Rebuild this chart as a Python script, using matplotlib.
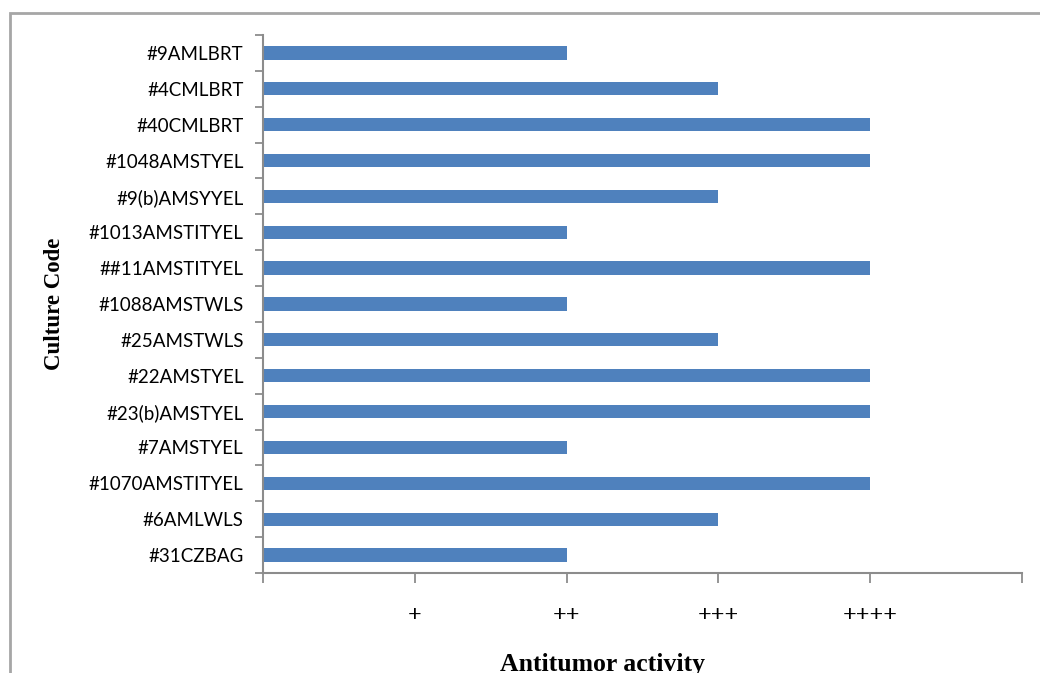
import numpy as np
import matplotlib
matplotlib.use('Agg')
import matplotlib.pyplot as plt
from matplotlib.patches import Rectangle

# culture codes, listed top to bottom
codes = ['#9AMLBRT', '#4CMLBRT', '#40CMLBRT', '#1048AMSTYEL', '#9(b)AMSYYEL',
         '#1013AMSTITYEL', '##11AMSTITYEL', '#1088AMSTWLS', '#25AMSTWLS',
         '#22AMSTYEL', '#23(b)AMSTYEL', '#7AMSTYEL', '#1070AMSTITYEL',
         '#6AMLWLS', '#31CZBAG']
# activity score (number of +)
activity = [2, 3, 4, 4, 3, 2, 4, 2, 3, 4, 4, 2, 4, 3, 2]
score_labels = ['', '+', '++', '+++', '++++', '']

bar_color = '#4F81BD'
axis_color = '#8c8c8c'

fig = plt.figure(figsize=(10.4, 6.73), dpi=100)
# outer frame of the chart box
fig.patches.append(Rectangle((0.0095, -0.5), 1.5, 1.48, transform=fig.transFigure,
                             fill=False, edgecolor='#a6a6a6', linewidth=2))

ax = fig.add_axes([0.2529, 0.1486, 0.7298, 0.7994])
ypos = np.arange(len(codes))[::-1]
ax.barh(ypos, activity, height=0.37, color=bar_color, edgecolor='none')

ax.set_xlim(0, 5)
ax.set_ylim(-0.5, len(codes) - 0.5)
ax.set_xticks(range(6))
ax.set_xticklabels(score_labels, family='Liberation Serif', fontsize=17.5, fontweight='bold')
ax.set_yticks(ypos)
ax.set_yticklabels(codes, family='Lato', fontsize=13.5)
ax.set_yticks(np.arange(-0.5, len(codes)), minor=True)

ax.tick_params(axis='y', which='major', length=0, pad=14)
ax.tick_params(axis='y', which='minor', length=6, width=1.3, color=axis_color, direction='out')
ax.tick_params(axis='x', length=7, width=1.3, color=axis_color, direction='out', pad=16)

for s in ['top', 'right']:
    ax.spines[s].set_visible(False)
for s in ['left', 'bottom']:
    ax.spines[s].set_color(axis_color)
    ax.spines[s].set_linewidth(1.5)

fig.text(55 / 1040, 0.548, 'Culture Code', rotation=90, ha='center', va='center',
         family='Liberation Serif', fontsize=16.5, fontweight='bold')
fig.text(603 / 1040, 1 - 665 / 673, 'Antitumor activity', ha='center', va='center',
         family='Liberation Serif', fontsize=18.5, fontweight='bold')

fig.savefig('out.png', dpi=100)
